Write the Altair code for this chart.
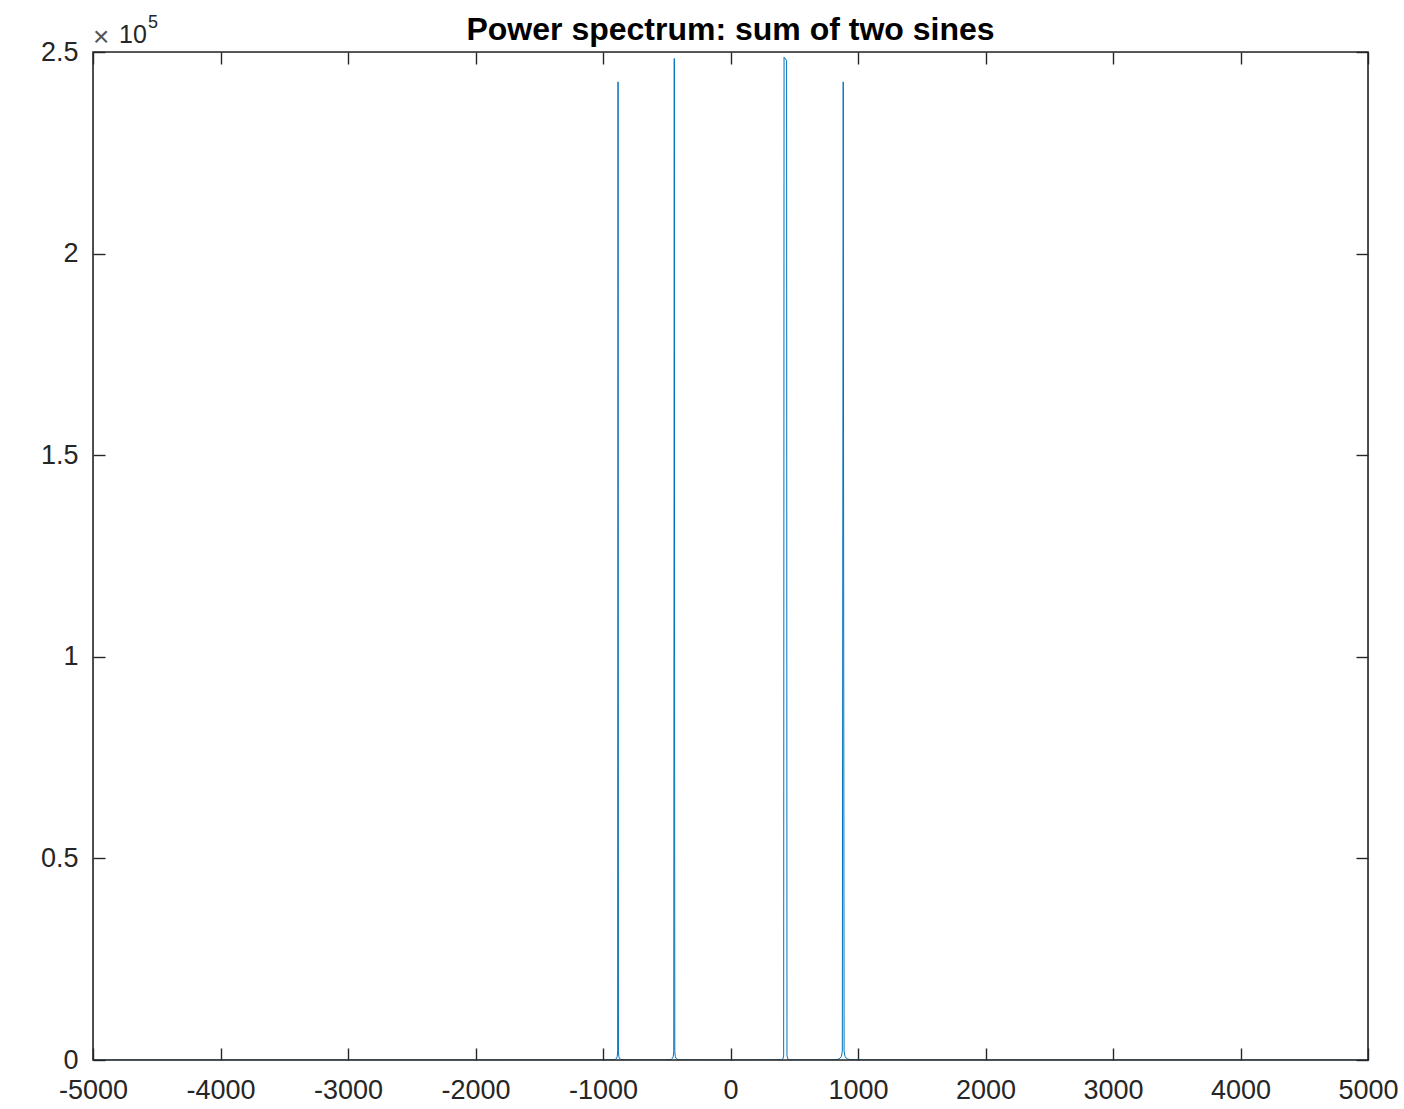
import altair as alt
import pandas as pd

# Frequency (Hz) and power values
freq_hz = [
    -5000, -3000, -1500, -1100, -1000, -960, -930, -912, -900, -893, -888, -885, -882,
    -879, -876, -871, -864, -852, -834, -804, -760, -700, -620, -560, -520, -492, -474,
    -462, -454, -449, -445, -441,
    -437, -433, -428, -420, -408, -390, -360, -300, -200, 0, 200, 300, 360, 390, 400,
    408, 413, 417, 420, 440,
    443, 447, 452, 460, 472, 490, 520, 600, 700, 760, 800, 830, 848, 860, 870, 877, 884,
    891, 898, 908, 920, 938, 968, 1010, 1100, 1500, 3000, 5000,
]
power = [
    2, 3, 8, 15, 22, 35, 60, 110, 220, 450, 900, 2200, 242600,
    2200, 900, 450, 220, 110, 60, 35, 22, 18, 18, 22, 35, 60, 110,
    220, 450, 900, 2200, 248400,
    2200, 900, 450, 220, 110, 60, 35, 22, 15, 12, 15, 22, 35, 60, 110,
    220, 450, 1200, 248700, 247900,
    1200, 450, 220, 110, 60, 35, 22, 18, 22, 35, 60, 110, 220, 450, 900, 2200, 242600,
    2200, 900, 450, 220, 110, 60, 35, 22, 8, 3, 2,
]
assert len(freq_hz) == len(power)

x_ticks = [-5000, -4000, -3000, -2000, -1000, 0, 1000, 2000, 3000, 4000, 5000]
y_ticks = [0, 50000, 100000, 150000, 200000, 250000]
title_text = ["Power spectrum: sum of two sines"]
exp_times = ["\u00d7"]
exp_base = ["10"]
exp_power = ["5"]

df = pd.DataFrame({"f": freq_hz, "p": power})

FONT = "Liberation Sans"
INK = "#262626"
TICK = 12
W, H = 1275, 1008

xscale = alt.Scale(domain=[-5000, 5000], nice=False, zero=False)
yscale = alt.Scale(domain=[0, 250000], nice=False, zero=False)

common = dict(grid=False, domain=False, title=None, tickColor=INK, tickWidth=1.4,
              tickSize=TICK, offset=-TICK, labelColor=INK, labelFont=FONT,
              labelFontSize=27)

line = alt.Chart(df).mark_line(color="#0072BD", strokeWidth=1, clip=True).encode(
    x=alt.X("f:Q", scale=xscale,
            axis=alt.Axis(orient="bottom", values=x_ticks, labelExpr="'' + datum.value",
                          labelPadding=17, labelFlush=False, labelOverlap=False, **common)),
    y=alt.Y("p:Q", scale=yscale,
            axis=alt.Axis(orient="left", values=y_ticks, labelExpr="'' + datum.value / 100000",
                          labelPadding=15, labelFlush=False, labelOverlap=False, **common)),
)

mirror = alt.Chart(df).mark_line(opacity=0).encode(
    x=alt.X("f:Q", scale=xscale,
            axis=alt.Axis(orient="top", values=x_ticks, labels=False, **common)),
    y=alt.Y("p:Q", scale=yscale,
            axis=alt.Axis(orient="right", values=y_ticks, labels=False, **common)),
)

frame = alt.Chart(pd.DataFrame({"t": ["frame"]})).mark_rect(
    fill=None, fillOpacity=0, stroke=INK, strokeWidth=1.6
).encode(x=alt.value(0), x2=alt.value(W), y=alt.value(0), y2=alt.value(H))

title = alt.Chart(pd.DataFrame({"t": title_text})).mark_text(
    align="center", baseline="alphabetic", font=FONT, fontSize=32, fontWeight="bold",
    color="black"
).encode(x=alt.value(W / 2), y=alt.value(-12), text="t:N")

exp0 = alt.Chart(pd.DataFrame({"t": exp_times})).mark_text(
    align="left", baseline="alphabetic", font=FONT, fontSize=28, color="#555555"
).encode(x=alt.value(0), y=alt.value(-6), text="t:N")

exp1 = alt.Chart(pd.DataFrame({"t": exp_base})).mark_text(
    align="left", baseline="alphabetic", font=FONT, fontSize=25, color=INK
).encode(x=alt.value(26), y=alt.value(-9), text="t:N")

exp2 = alt.Chart(pd.DataFrame({"t": exp_power})).mark_text(
    align="left", baseline="alphabetic", font=FONT, fontSize=18, color=INK
).encode(x=alt.value(55), y=alt.value(-24), text="t:N")

chart = alt.layer(line, mirror, frame, title, exp0, exp1, exp2).resolve_axis(
    x="independent", y="independent"
).properties(
    width=W, height=H,
    autosize=alt.AutoSizeParams(type="none"),
    padding={"left": 93, "top": 52, "right": 36, "bottom": 49},
).configure_view(stroke=None).configure(background="white")

chart.save("out.html", embed_options={"renderer": "svg", "actions": False})
